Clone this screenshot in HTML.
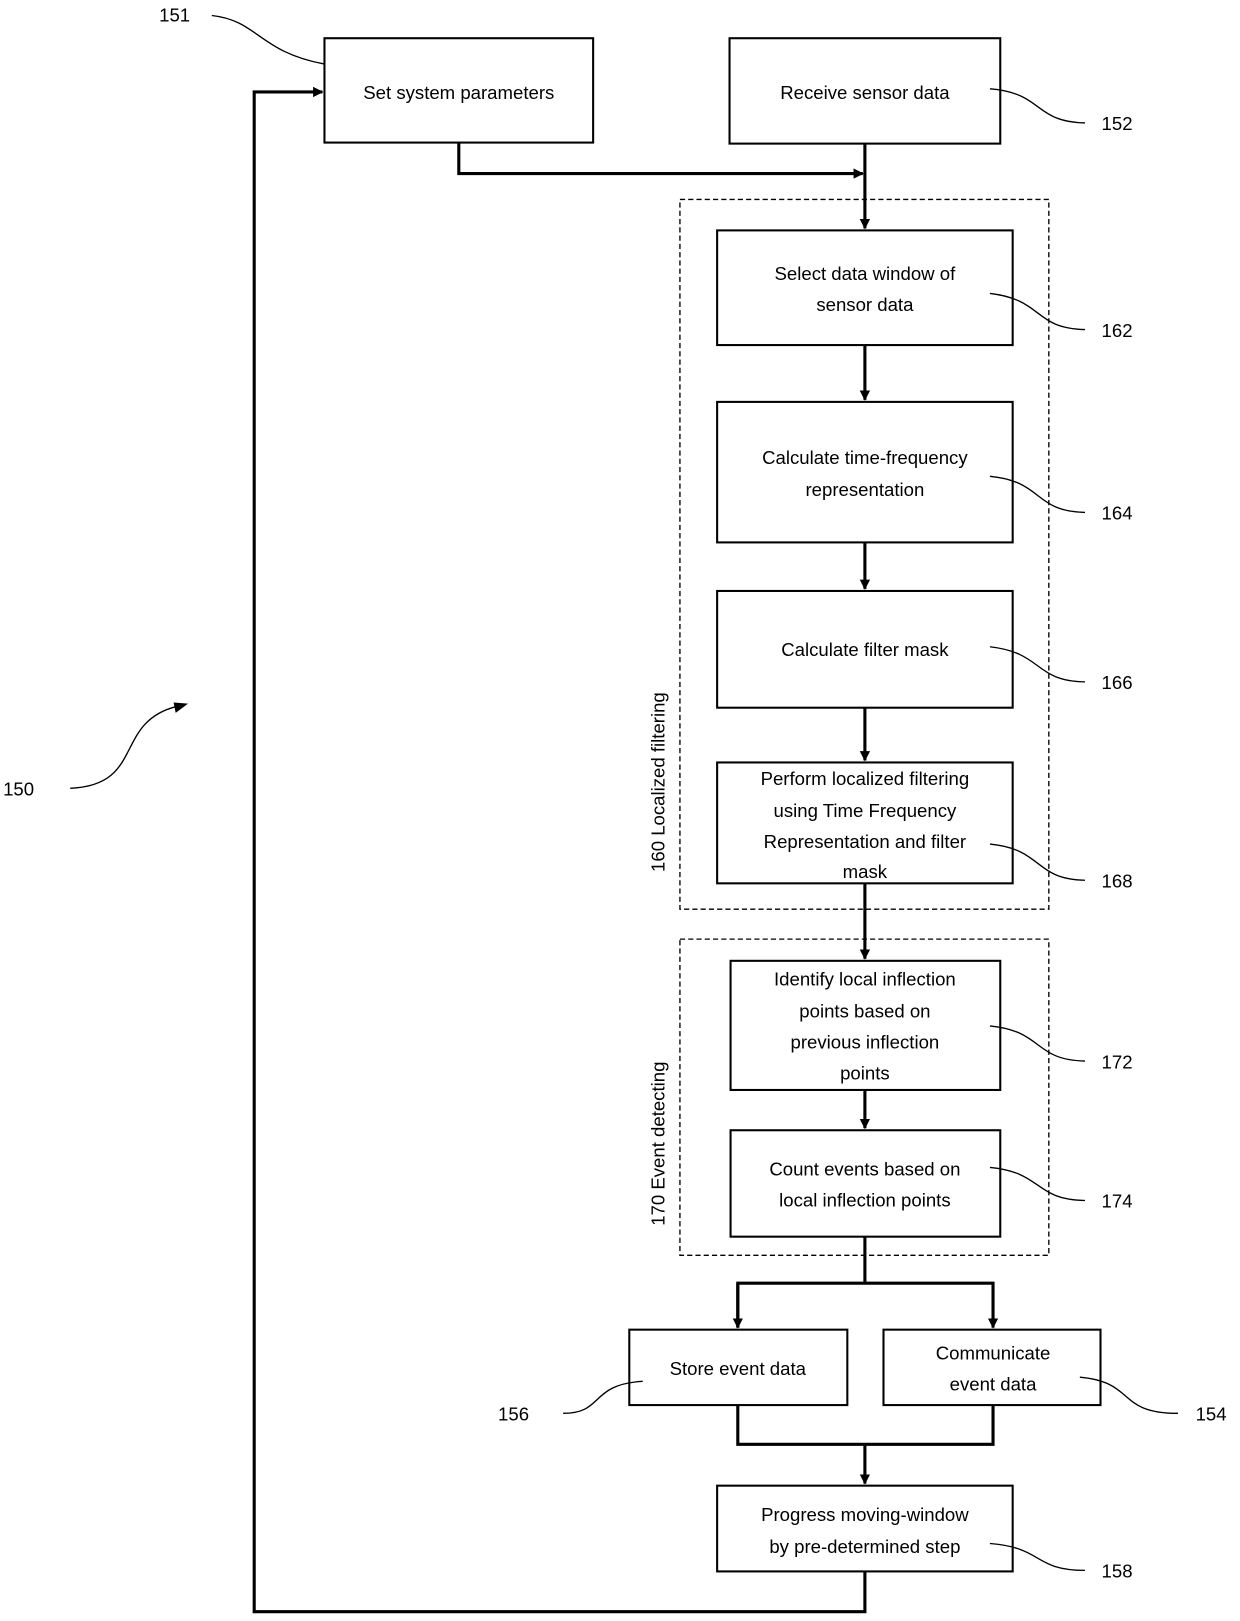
<!DOCTYPE html>
<html><head><style>html,body{margin:0;padding:0;background:#fff}svg{display:block}</style></head><body>
<svg width="1240" height="1621" viewBox="0 0 1200 1569" preserveAspectRatio="none" xmlns="http://www.w3.org/2000/svg" font-family="Liberation Sans, sans-serif" font-size="18" fill="#000">
<defs><marker id="a" markerWidth="10" markerHeight="10" refX="9" refY="5" orient="auto" markerUnits="userSpaceOnUse"><path d="M0,0 L10,5 L0,10 z" fill="#000"/></marker></defs>
<g fill="none" stroke="#000" stroke-width="2">
<rect x="314" y="37" width="260" height="101"/>
<rect x="706" y="37" width="262" height="102"/>
<rect x="694" y="223" width="286" height="111"/>
<rect x="694" y="389" width="286" height="136"/>
<rect x="694" y="572" width="286" height="113"/>
<rect x="694" y="738" width="286" height="117"/>
<rect x="707" y="930" width="261" height="125"/>
<rect x="707" y="1094" width="261" height="103"/>
<rect x="609" y="1287" width="211" height="73"/>
<rect x="855" y="1287" width="210" height="73"/>
<rect x="694" y="1438" width="286" height="83"/>
<rect x="658" y="193" width="357" height="687" stroke-width="1.3" stroke-dasharray="5,3"/>
<rect x="658" y="909" width="357" height="306" stroke-width="1.3" stroke-dasharray="5,3"/>
<g stroke-width="3">
<path d="M444,138 V168 H835" marker-end="url(#a)"/>
<path d="M837,139 V221" marker-end="url(#a)"/>
<path d="M837,334 V387" marker-end="url(#a)"/>
<path d="M837,525 V570" marker-end="url(#a)"/>
<path d="M837,685 V736" marker-end="url(#a)"/>
<path d="M837,855 V928" marker-end="url(#a)"/>
<path d="M837,1055 V1092" marker-end="url(#a)"/>
<path d="M837,1197 V1242"/>
<path d="M714,1285 V1242 H961 V1285" marker-end="url(#a)"/>
<path d="M714,1242 V1285" marker-end="url(#a)"/>
<path d="M714,1360 V1398 H961 V1360"/>
<path d="M837,1398 V1436" marker-end="url(#a)"/>
<path d="M837,1521 V1560 H246 V89 H312" marker-end="url(#a)"/>
</g>
<g stroke-width="1.3">
<path d="M205,15 C250,20 250,50 314,62"/>
<path d="M958,86 C1010,90 1000,118 1050,119"/>
<path d="M958,284 C1010,290 1000,318 1050,319"/>
<path d="M958,461 C1010,466 1000,495 1050,496"/>
<path d="M958,626 C1010,632 1000,659 1050,660"/>
<path d="M958,817 C1010,822 1000,851 1050,852"/>
<path d="M958,993 C1010,998 1000,1026 1050,1027"/>
<path d="M958,1130 C1010,1135 1000,1161 1050,1162"/>
<path d="M1045,1333 C1100,1338 1080,1368 1140,1368"/>
<path d="M622,1337 C570,1340 585,1368 545,1368"/>
<path d="M958,1494 C1010,1498 1000,1520 1050,1520"/>
<path d="M68,763 C140,760 110,700 170,684"/>
</g>
</g>
<path d="M182,681 L170,690 L168,680 z"/>
<g text-anchor="middle">
<text x="444" y="96">Set system parameters</text>
<text x="837" y="96">Receive sensor data</text>
<text x="837" y="271">Select data window of</text>
<text x="837" y="301">sensor data</text>
<text x="837" y="449">Calculate time-frequency</text>
<text x="837" y="480">representation</text>
<text x="837" y="635">Calculate filter mask</text>
<text x="837" y="760">Perform localized filtering</text>
<text x="837" y="791">using Time Frequency</text>
<text x="837" y="821">Representation and filter</text>
<text x="837" y="850">mask</text>
<text x="837" y="954">Identify local inflection</text>
<text x="837" y="985">points  based on</text>
<text x="837" y="1015">previous inflection</text>
<text x="837" y="1045">points</text>
<text x="837" y="1138">Count events based on</text>
<text x="837" y="1168">local inflection points</text>
<text x="714" y="1331">Store event data</text>
<text x="961" y="1316">Communicate</text>
<text x="961" y="1346">event data</text>
<text x="837" y="1472">Progress moving-window</text>
<text x="837" y="1503">by pre-determined step</text>
<text transform="translate(643,757) rotate(-90)">160  Localized filtering</text>
<text transform="translate(643,1107) rotate(-90)">170  Event detecting</text>
</g>
<text x="154" y="21">151</text>
<text x="1066" y="126">152</text>
<text x="1066" y="326">162</text>
<text x="1066" y="503">164</text>
<text x="1066" y="667">166</text>
<text x="1066" y="859">168</text>
<text x="1066" y="1034">172</text>
<text x="1066" y="1169">174</text>
<text x="1157" y="1375">154</text>
<text x="482" y="1375">156</text>
<text x="1066" y="1527">158</text>
<text x="3" y="770">150</text>
</svg>
</body></html>
